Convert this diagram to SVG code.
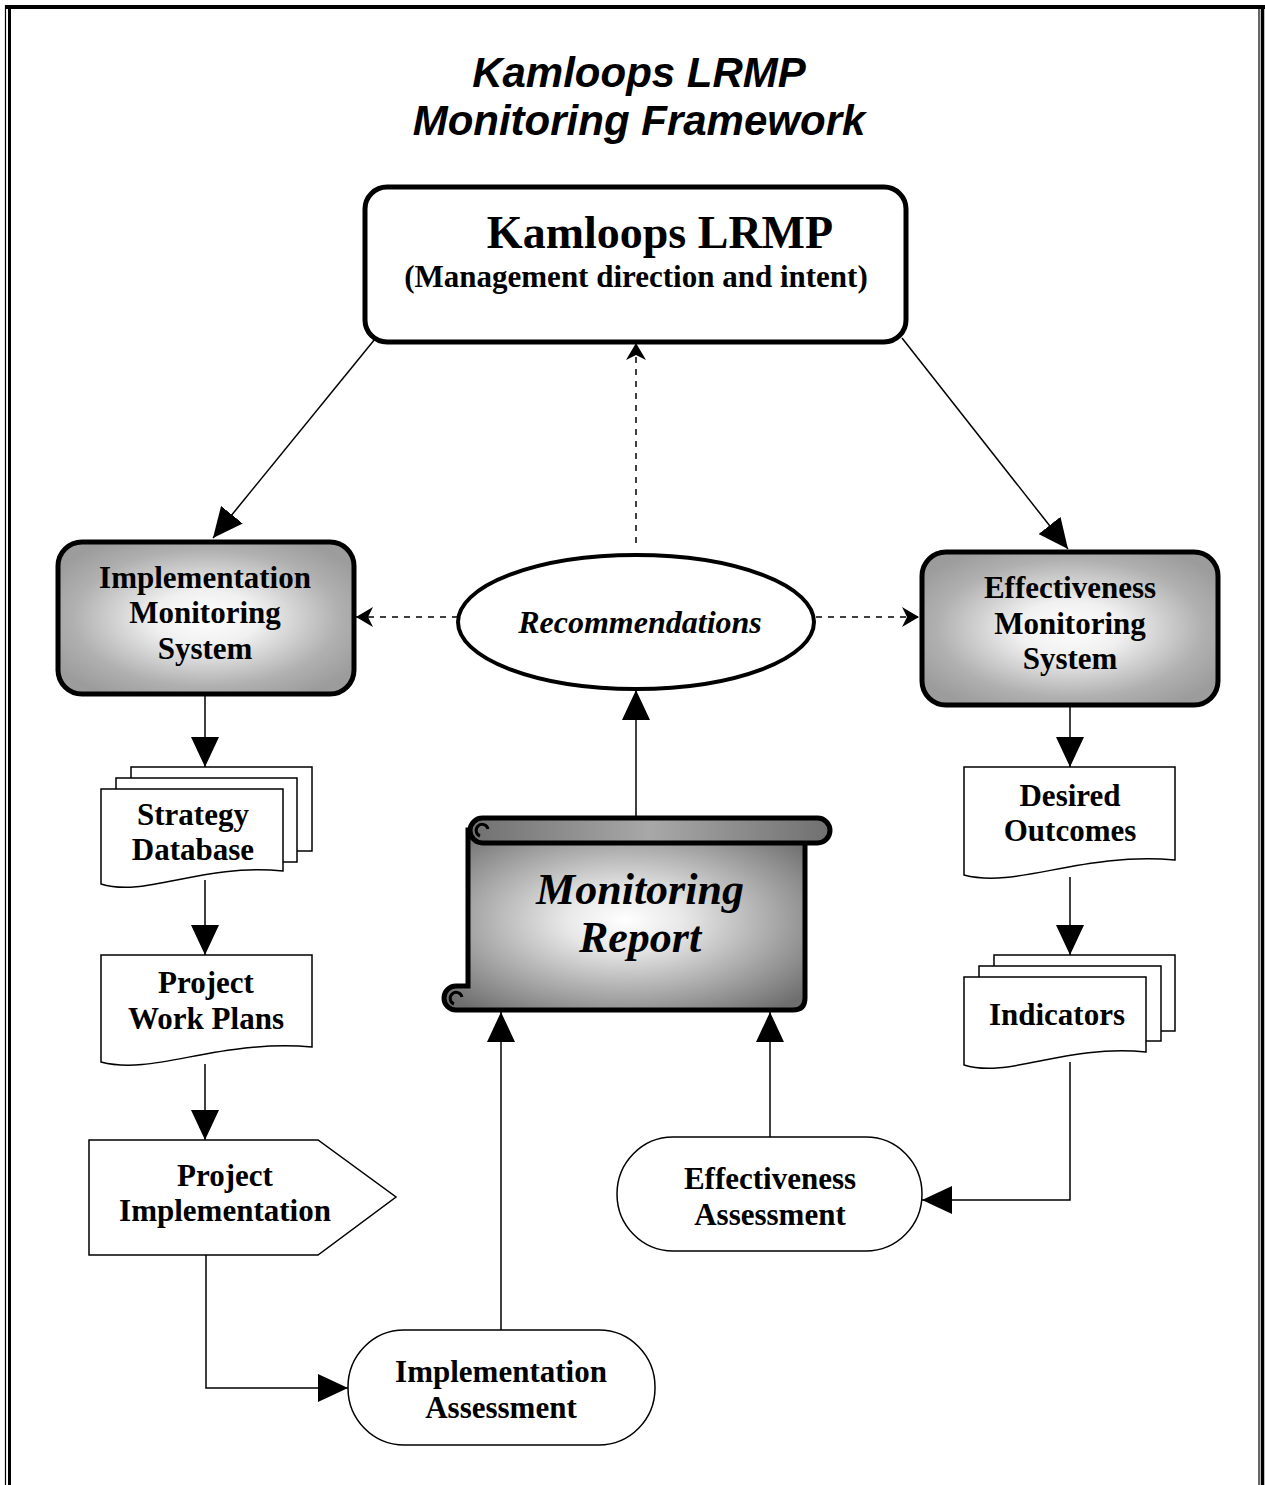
<svg xmlns="http://www.w3.org/2000/svg" width="1265" height="1485" viewBox="0 0 1265 1485">
<style>
.t{font-family:"Liberation Serif","Times New Roman",serif;font-weight:bold;font-size:31px;text-anchor:middle;fill:#000}
.ti{font-family:"Liberation Sans",Arial,sans-serif;font-weight:bold;font-style:italic;font-size:42px;text-anchor:middle;fill:#000}
.thin{fill:#fff;stroke:#000;stroke-width:1.5}
.gray{fill:url(#rg);stroke:#000;stroke-width:5}
.ln{fill:none;stroke:#000;stroke-width:1.5}
.dash{fill:none;stroke:#000;stroke-width:1.5;stroke-dasharray:6 6}
</style>
<defs>
<radialGradient id="rg" cx="50%" cy="50%" r="60%">
<stop offset="0" stop-color="#ffffff"/>
<stop offset="0.3" stop-color="#f0f0f0"/>
<stop offset="0.75" stop-color="#b0b0b0"/>
<stop offset="1" stop-color="#9c9c9c"/>
</radialGradient>
<radialGradient id="rg2" cx="50%" cy="50%" r="65%">
<stop offset="0" stop-color="#ffffff"/>
<stop offset="0.25" stop-color="#e8e8e8"/>
<stop offset="1" stop-color="#6e6e6e"/>
</radialGradient>
<linearGradient id="lg" x1="0" y1="0" x2="1" y2="0">
<stop offset="0" stop-color="#707070"/>
<stop offset="0.5" stop-color="#a8a8a8"/>
<stop offset="1" stop-color="#707070"/>
</linearGradient>
<marker id="ah" markerUnits="userSpaceOnUse" markerWidth="30" markerHeight="28" refX="30" refY="14" orient="auto">
<path d="M0,0 L30,14 L0,28 Z" fill="#000"/>
</marker>
<marker id="st" markerUnits="userSpaceOnUse" markerWidth="18" markerHeight="20" refX="17" refY="10" orient="auto">
<path d="M0,0 L17,10 L0,20 L5,10 Z" fill="#000"/>
</marker>
</defs>

<g id="frame">
<line x1="5" y1="7" x2="1265" y2="7" stroke="#000" stroke-width="4"/>
<line x1="5.5" y1="5" x2="5.5" y2="1485" stroke="#000" stroke-width="1.2"/>
<line x1="9.5" y1="7" x2="9.5" y2="1485" stroke="#000" stroke-width="3"/>
<line x1="1259" y1="7" x2="1259" y2="1485" stroke="#000" stroke-width="1.2"/>
<line x1="1262.5" y1="7" x2="1262.5" y2="1485" stroke="#000" stroke-width="3.5"/>
</g>

<g id="title">
<text class="ti" x="639" y="87">Kamloops LRMP</text>
<text class="ti" x="639" y="135">Monitoring Framework</text>
</g>

<g id="connectors">
<line class="ln" x1="375" y1="339" x2="213" y2="538" marker-end="url(#ah)"/>
<line class="ln" x1="902" y1="338" x2="1068" y2="549" marker-end="url(#ah)"/>
<line class="dash" x1="636" y1="543" x2="636" y2="343" marker-end="url(#st)"/>
<line class="dash" x1="458" y1="617" x2="356" y2="617" marker-end="url(#st)"/>
<line class="dash" x1="816" y1="617" x2="919" y2="617" marker-end="url(#st)"/>
<line class="ln" x1="205" y1="695" x2="205" y2="767" marker-end="url(#ah)"/>
<line class="ln" x1="205" y1="880" x2="205" y2="955" marker-end="url(#ah)"/>
<line class="ln" x1="205" y1="1064" x2="205" y2="1140" marker-end="url(#ah)"/>
<polyline class="ln" points="206,1255 206,1388 348,1388" marker-end="url(#ah)"/>
<line class="ln" x1="501" y1="1330" x2="501" y2="1012" marker-end="url(#ah)"/>
<line class="ln" x1="636" y1="820" x2="636" y2="690" marker-end="url(#ah)"/>
<line class="ln" x1="1070" y1="706" x2="1070" y2="767" marker-end="url(#ah)"/>
<line class="ln" x1="1070" y1="877" x2="1070" y2="955" marker-end="url(#ah)"/>
<polyline class="ln" points="1070,1062 1070,1200 922,1200" marker-end="url(#ah)"/>
<line class="ln" x1="770" y1="1137" x2="770" y2="1012" marker-end="url(#ah)"/>
</g>

<g id="lrmp">
<rect x="365" y="187" width="541" height="155" rx="22" fill="#fff" stroke="#000" stroke-width="5"/>
<text class="t" x="660" y="248" style="font-size:46px">Kamloops LRMP</text>
<text class="t" x="636" y="287">(Management direction and intent)</text>
</g>

<g id="ims">
<rect class="gray" x="58" y="542" width="296" height="152" rx="24"/>
<text class="t" x="205" y="588">Implementation</text>
<text class="t" x="205" y="623">Monitoring</text>
<text class="t" x="205" y="659">System</text>
</g>

<g id="ems">
<rect class="gray" x="922" y="552" width="296" height="153" rx="24"/>
<text class="t" x="1070" y="598">Effectiveness</text>
<text class="t" x="1070" y="634">Monitoring</text>
<text class="t" x="1070" y="669">System</text>
</g>

<g id="recommendations">
<ellipse cx="636" cy="622" rx="178" ry="67" fill="#fff" stroke="#000" stroke-width="4"/>
<text class="t" x="640" y="633" style="font-style:italic;font-size:32px">Recommendations</text>
</g>

<g id="strategy">
<rect class="thin" x="131" y="767" width="181" height="84"/>
<rect class="thin" x="116" y="778" width="181" height="84"/>
<path class="thin" d="M101,789 H283 V871 C201,863 146,898 101,884 Z"/>
<text class="t" x="193" y="825">Strategy</text>
<text class="t" x="193" y="860">Database</text>
</g>

<g id="workplans">
<path class="thin" d="M101,955 H312 V1047 C217,1039 154,1076 101,1062 Z"/>
<text class="t" x="206" y="993">Project</text>
<text class="t" x="206" y="1029">Work Plans</text>
</g>

<g id="projimpl">
<path class="thin" d="M89,1140 H318 L396,1197 L318,1255 H89 Z"/>
<text class="t" x="225" y="1186">Project</text>
<text class="t" x="225" y="1221">Implementation</text>
</g>

<g id="implassess">
<rect class="thin" x="348" y="1330" width="307" height="115" rx="56" ry="57"/>
<text class="t" x="501" y="1382">Implementation</text>
<text class="t" x="501" y="1418">Assessment</text>
</g>

<g id="report">
<path d="M468,830 H805 V998 Q805,1010 793,1010 H456 A12,12 0 0 1 444,998 A12,12 0 0 1 456,986 H468 Z" fill="url(#rg2)" stroke="#000" stroke-width="5"/>
<path d="M462,997 A6,6 0 1 0 454,1004" fill="none" stroke="#000" stroke-width="3"/>
<rect x="470" y="818" width="360" height="25" rx="12.5" fill="url(#lg)" stroke="#000" stroke-width="5"/>
<path d="M488,829 A6,6 0 1 0 480,836" fill="none" stroke="#000" stroke-width="3"/>
<text class="t" x="640" y="904" style="font-style:italic;font-size:44px">Monitoring</text>
<text class="t" x="640" y="952" style="font-style:italic;font-size:44px">Report</text>
</g>

<g id="outcomes">
<path class="thin" d="M964,767 H1175 V860 C1080,852 1017,889 964,875 Z"/>
<text class="t" x="1070" y="806">Desired</text>
<text class="t" x="1070" y="841">Outcomes</text>
</g>

<g id="indicators">
<rect class="thin" x="994" y="955" width="181" height="76"/>
<rect class="thin" x="979" y="966" width="182" height="75"/>
<path class="thin" d="M964,977 H1146 V1052 C1064,1044 1009,1079 964,1065 Z"/>
<text class="t" x="1057" y="1025">Indicators</text>
</g>

<g id="effassess">
<rect class="thin" x="617" y="1137" width="305" height="114" rx="56" ry="57"/>
<text class="t" x="770" y="1189">Effectiveness</text>
<text class="t" x="770" y="1225">Assessment</text>
</g>
</svg>
